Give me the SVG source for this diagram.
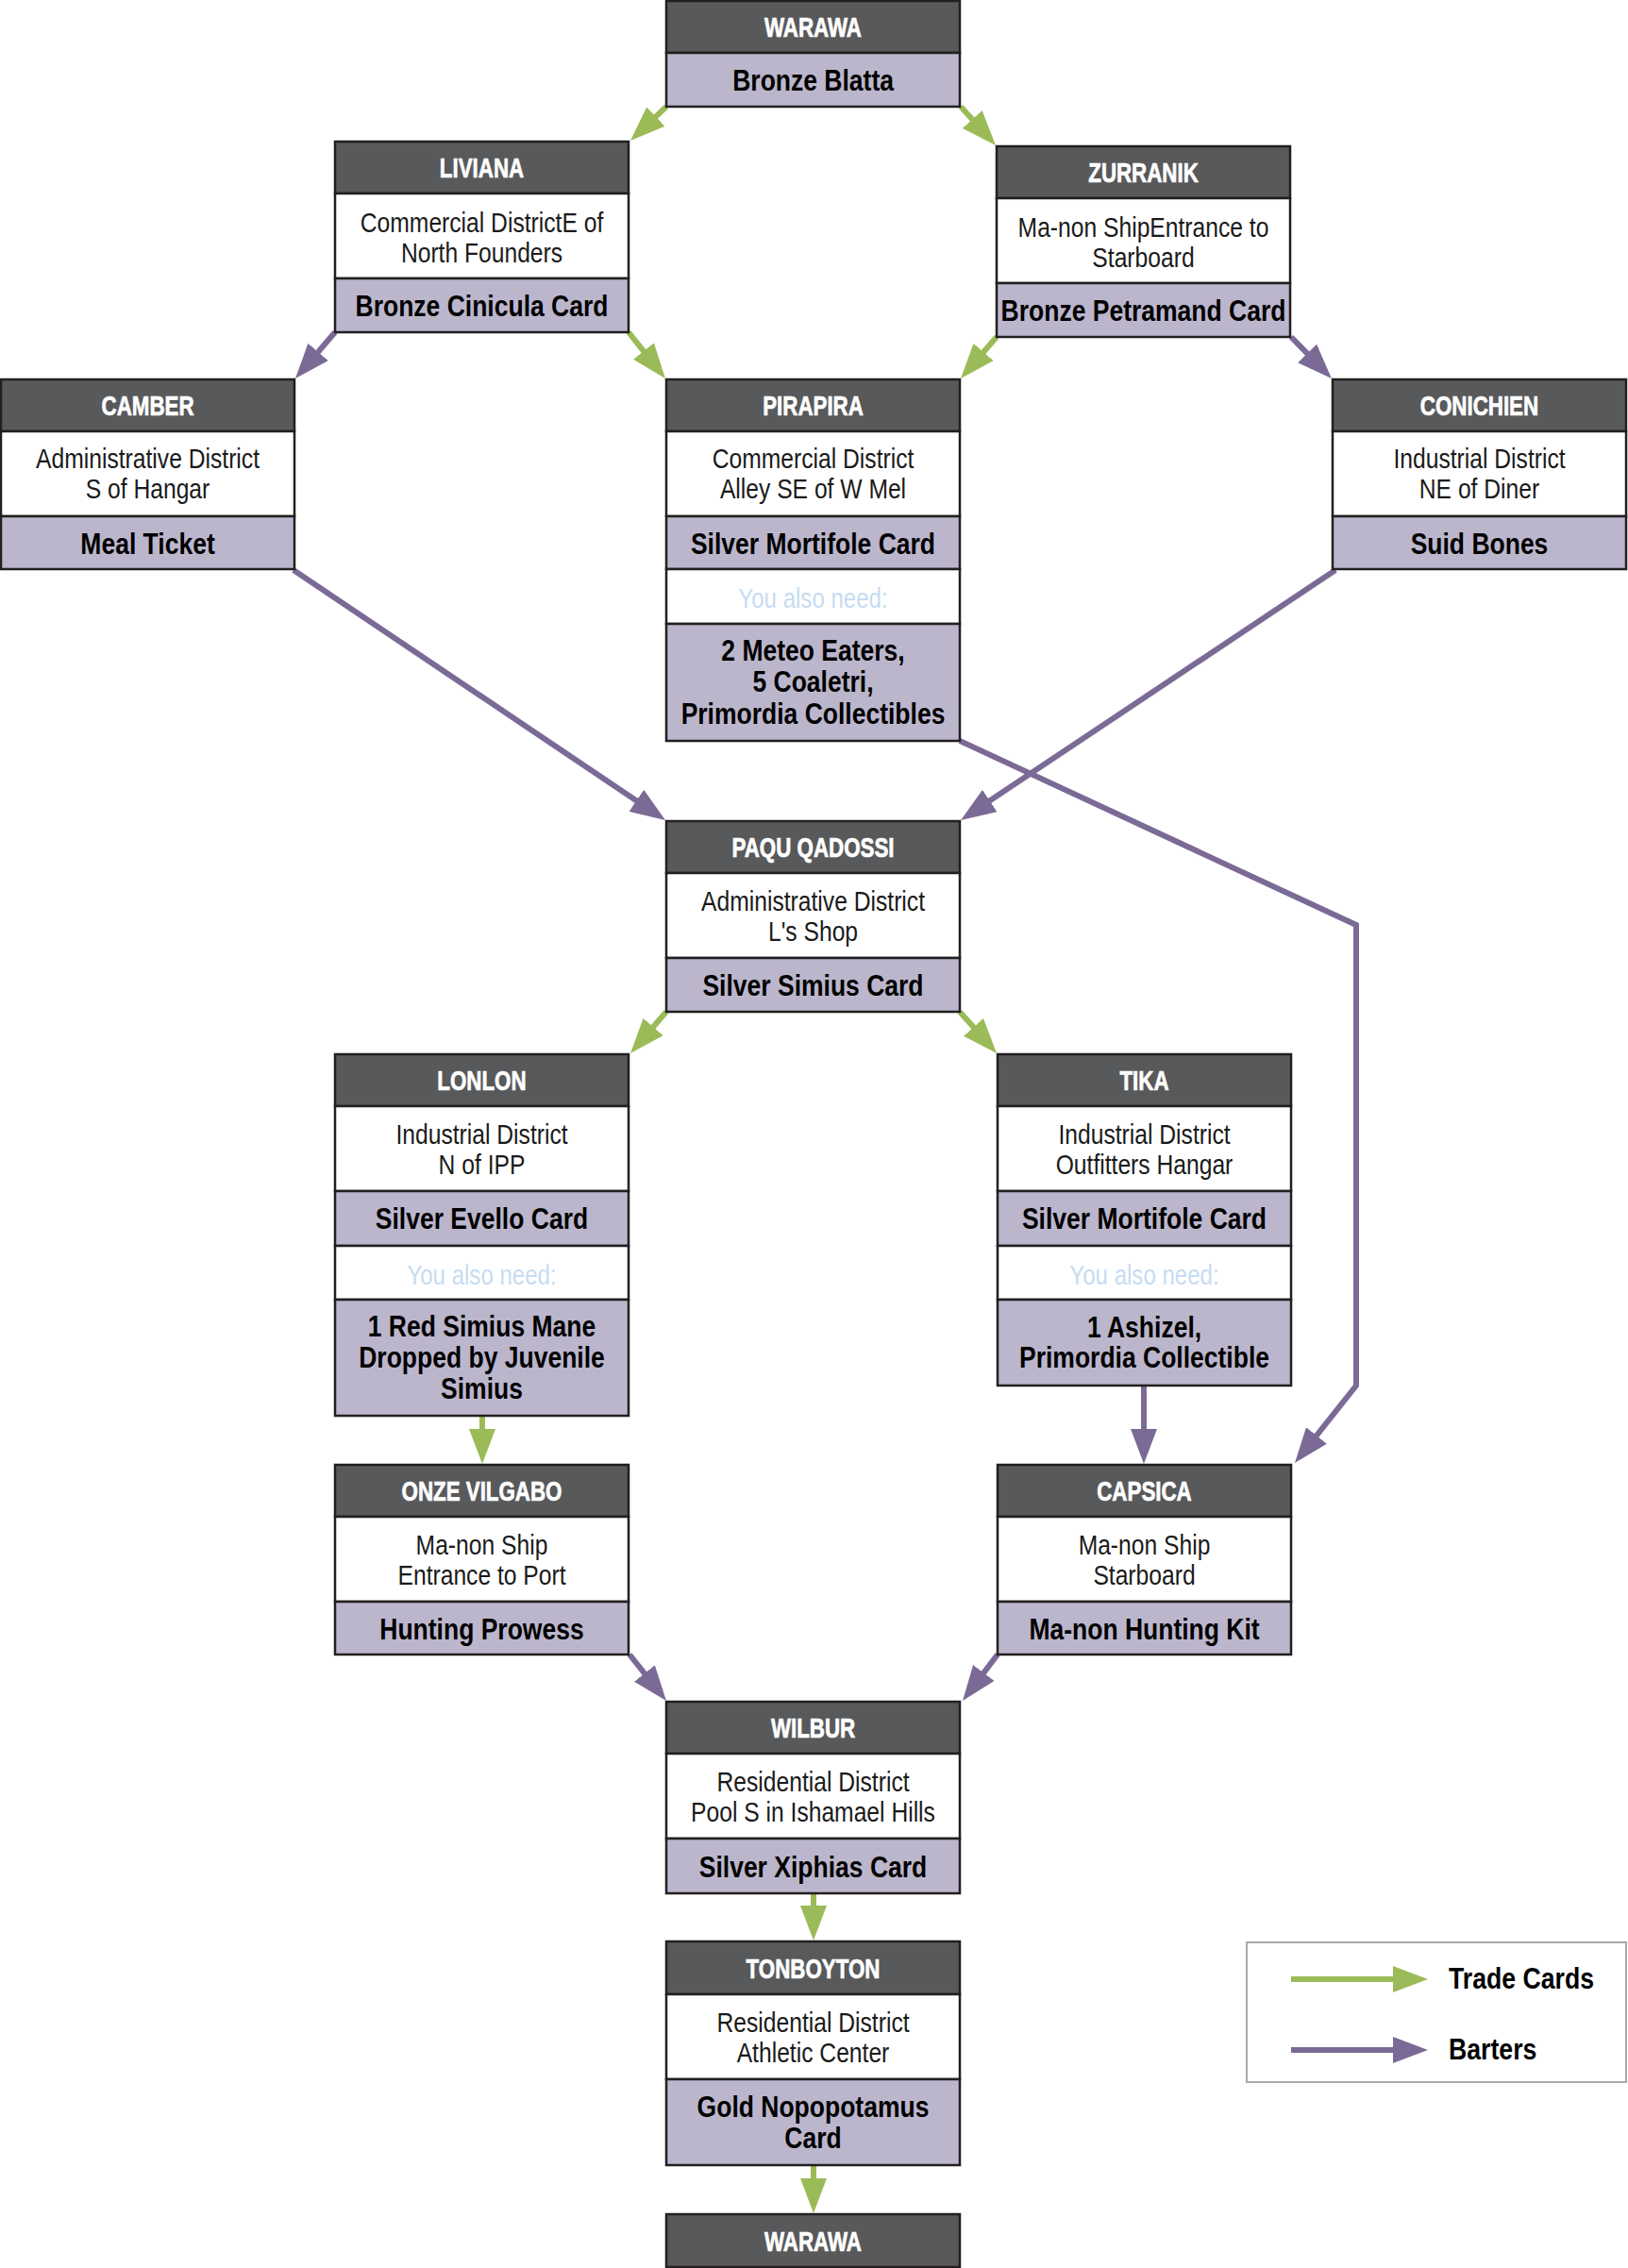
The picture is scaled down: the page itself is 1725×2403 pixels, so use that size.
<svg xmlns="http://www.w3.org/2000/svg" width="1725" height="2403" viewBox="0 0 1725 2403">
<style>
.hd{fill:#58595b;stroke:#231f20;stroke-width:2.5}
.lc{fill:#ffffff;stroke:#231f20;stroke-width:2.5}
.it{fill:#bcb6cc;stroke:#231f20;stroke-width:2.5}
text{font-family:"Liberation Sans",Arial,sans-serif;text-anchor:middle;transform-box:fill-box;transform-origin:50% 50%}
.ht{fill:#ffffff;font-size:29px;font-weight:700;stroke:#ffffff;stroke-width:0.7;transform:scaleX(0.77)}
.lt{fill:#1a1a1a;font-size:29px;font-weight:400;transform:scaleX(0.85)}
.tt{fill:#000000;font-size:31px;font-weight:700;transform:scaleX(0.855)}
.yt{fill:#c6dcf2;font-size:29px;font-weight:400;transform:scaleX(0.83)}
.g{stroke:#9bbb59;stroke-width:6;fill:none;marker-end:url(#ag)}
.p{stroke:#7b6a96;stroke-width:6;fill:none;marker-end:url(#ap)}
.leg{fill:#000;font-size:31px;font-weight:700;text-anchor:start;transform-origin:0% 50%;transform:scaleX(0.86)}
</style>
<defs>
<marker id="ag" markerUnits="userSpaceOnUse" markerWidth="38" markerHeight="28" refX="3" refY="14" orient="auto"><path d="M0,0 L37,14 L0,28 z" fill="#9bbb59"/></marker>
<marker id="ap" markerUnits="userSpaceOnUse" markerWidth="38" markerHeight="28" refX="3" refY="14" orient="auto"><path d="M0,0 L37,14 L0,28 z" fill="#7b6a96"/></marker>
</defs>
<g id="connectors">
<path class="g" d="M706,113 L692.7,125.6"/>
<path class="g" d="M1018,113 L1032.2,128.7"/>
<path class="p" d="M355,352 L335.1,375.2"/>
<path class="g" d="M666,352 L683.8,374.4"/>
<path class="g" d="M1056,357 L1040.2,375.3"/>
<path class="p" d="M1368,357 L1387.2,376.7"/>
<path class="p" d="M311,604 L676.8,850"/>
<path class="p" d="M1415,604 L1046.3,850.1"/>
<path class="p" d="M1017,785 L1437,980 L1437,1468 L1393.1,1523.3"/>
<path class="g" d="M706,1072 L690.2,1090.3"/>
<path class="g" d="M1017,1072 L1033.5,1090.6"/>
<path class="g" d="M511,1500 L511,1517"/>
<path class="p" d="M1212,1468 L1212,1517"/>
<path class="p" d="M667,1753 L684.8,1775.4"/>
<path class="p" d="M1057,1753 L1040.5,1774.9"/>
<path class="g" d="M862,2006 L862,2022"/>
<path class="g" d="M862,2294 L862,2311"/>
</g>
<g id="warawa-top">
<rect class="hd" x="706" y="1" width="311" height="55"/>
<rect class="it" x="706" y="56" width="311" height="57"/>
<text class="ht" x="861.5" y="39">WARAWA</text>
<text class="tt" x="861.5" y="96">Bronze Blatta</text>
</g>
<g id="liviana">
<rect class="hd" x="355" y="150" width="311" height="55"/>
<rect class="lc" x="355" y="205" width="311" height="90"/>
<rect class="it" x="355" y="295" width="311" height="57"/>
<text class="ht" x="510.5" y="188">LIVIANA</text>
<text class="lt" x="510.5" y="246">Commercial DistrictE of</text>
<text class="lt" x="510.5" y="278">North Founders</text>
<text class="tt" x="510.5" y="335">Bronze Cinicula Card</text>
</g>
<g id="zurranik">
<rect class="hd" x="1056" y="155" width="311" height="55"/>
<rect class="lc" x="1056" y="210" width="311" height="90"/>
<rect class="it" x="1056" y="300" width="311" height="57"/>
<text class="ht" x="1211.5" y="193">ZURRANIK</text>
<text class="lt" x="1211.5" y="251">Ma-non ShipEntrance to</text>
<text class="lt" x="1211.5" y="283">Starboard</text>
<text class="tt" x="1211.5" y="340">Bronze Petramand Card</text>
</g>
<g id="camber">
<rect class="hd" x="1" y="402" width="311" height="55"/>
<rect class="lc" x="1" y="457" width="311" height="90"/>
<rect class="it" x="1" y="547" width="311" height="56"/>
<text class="ht" x="156.5" y="440">CAMBER</text>
<text class="lt" x="156.5" y="496">Administrative District</text>
<text class="lt" x="156.5" y="528">S of Hangar</text>
<text class="tt" x="156.5" y="587">Meal Ticket</text>
</g>
<g id="pirapira">
<rect class="hd" x="706" y="402" width="311" height="55"/>
<rect class="lc" x="706" y="457" width="311" height="90"/>
<rect class="it" x="706" y="547" width="311" height="56"/>
<rect class="lc" x="706" y="603" width="311" height="58"/>
<rect class="it" x="706" y="661" width="311" height="124"/>
<text class="ht" x="861.5" y="440">PIRAPIRA</text>
<text class="lt" x="861.5" y="496">Commercial District</text>
<text class="lt" x="861.5" y="528">Alley SE of W Mel</text>
<text class="tt" x="861.5" y="587">Silver Mortifole Card</text>
<text class="yt" x="861.5" y="644">You also need:</text>
<text class="tt" x="861.5" y="700">2 Meteo Eaters,</text>
<text class="tt" x="861.5" y="733">5 Coaletri,</text>
<text class="tt" x="861.5" y="767">Primordia Collectibles</text>
</g>
<g id="conichien">
<rect class="hd" x="1412" y="402" width="311" height="55"/>
<rect class="lc" x="1412" y="457" width="311" height="90"/>
<rect class="it" x="1412" y="547" width="311" height="56"/>
<text class="ht" x="1567.5" y="440">CONICHIEN</text>
<text class="lt" x="1567.5" y="496">Industrial District</text>
<text class="lt" x="1567.5" y="528">NE of Diner</text>
<text class="tt" x="1567.5" y="587">Suid Bones</text>
</g>
<g id="paqu-qadossi">
<rect class="hd" x="706" y="870" width="311" height="55"/>
<rect class="lc" x="706" y="925" width="311" height="90"/>
<rect class="it" x="706" y="1015" width="311" height="57"/>
<text class="ht" x="861.5" y="908">PAQU QADOSSI</text>
<text class="lt" x="861.5" y="965">Administrative District</text>
<text class="lt" x="861.5" y="997">L's Shop</text>
<text class="tt" x="861.5" y="1055">Silver Simius Card</text>
</g>
<g id="lonlon">
<rect class="hd" x="355" y="1117" width="311" height="55"/>
<rect class="lc" x="355" y="1172" width="311" height="90"/>
<rect class="it" x="355" y="1262" width="311" height="58"/>
<rect class="lc" x="355" y="1320" width="311" height="57"/>
<rect class="it" x="355" y="1377" width="311" height="123"/>
<text class="ht" x="510.5" y="1155">LONLON</text>
<text class="lt" x="510.5" y="1212">Industrial District</text>
<text class="lt" x="510.5" y="1244">N of IPP</text>
<text class="tt" x="510.5" y="1302">Silver Evello Card</text>
<text class="yt" x="510.5" y="1361">You also need:</text>
<text class="tt" x="510.5" y="1416">1 Red Simius Mane</text>
<text class="tt" x="510.5" y="1449">Dropped by Juvenile</text>
<text class="tt" x="510.5" y="1482">Simius</text>
</g>
<g id="tika">
<rect class="hd" x="1057" y="1117" width="311" height="55"/>
<rect class="lc" x="1057" y="1172" width="311" height="90"/>
<rect class="it" x="1057" y="1262" width="311" height="58"/>
<rect class="lc" x="1057" y="1320" width="311" height="57"/>
<rect class="it" x="1057" y="1377" width="311" height="91"/>
<text class="ht" x="1212.5" y="1155">TIKA</text>
<text class="lt" x="1212.5" y="1212">Industrial District</text>
<text class="lt" x="1212.5" y="1244">Outfitters Hangar</text>
<text class="tt" x="1212.5" y="1302">Silver Mortifole Card</text>
<text class="yt" x="1212.5" y="1361">You also need:</text>
<text class="tt" x="1212.5" y="1417">1 Ashizel,</text>
<text class="tt" x="1212.5" y="1449">Primordia Collectible</text>
</g>
<g id="onze-vilgabo">
<rect class="hd" x="355" y="1552" width="311" height="55"/>
<rect class="lc" x="355" y="1607" width="311" height="90"/>
<rect class="it" x="355" y="1697" width="311" height="56"/>
<text class="ht" x="510.5" y="1590">ONZE VILGABO</text>
<text class="lt" x="510.5" y="1647">Ma-non Ship</text>
<text class="lt" x="510.5" y="1679">Entrance to Port</text>
<text class="tt" x="510.5" y="1737">Hunting Prowess</text>
</g>
<g id="capsica">
<rect class="hd" x="1057" y="1552" width="311" height="55"/>
<rect class="lc" x="1057" y="1607" width="311" height="90"/>
<rect class="it" x="1057" y="1697" width="311" height="56"/>
<text class="ht" x="1212.5" y="1590">CAPSICA</text>
<text class="lt" x="1212.5" y="1647">Ma-non Ship</text>
<text class="lt" x="1212.5" y="1679">Starboard</text>
<text class="tt" x="1212.5" y="1737">Ma-non Hunting Kit</text>
</g>
<g id="wilbur">
<rect class="hd" x="706" y="1803" width="311" height="55"/>
<rect class="lc" x="706" y="1858" width="311" height="90"/>
<rect class="it" x="706" y="1948" width="311" height="58"/>
<text class="ht" x="861.5" y="1841">WILBUR</text>
<text class="lt" x="861.5" y="1898">Residential District</text>
<text class="lt" x="861.5" y="1930">Pool S in Ishamael Hills</text>
<text class="tt" x="861.5" y="1989">Silver Xiphias Card</text>
</g>
<g id="tonboyton">
<rect class="hd" x="706" y="2057" width="311" height="56"/>
<rect class="lc" x="706" y="2113" width="311" height="90"/>
<rect class="it" x="706" y="2203" width="311" height="91"/>
<text class="ht" x="861.5" y="2096">TONBOYTON</text>
<text class="lt" x="861.5" y="2153">Residential District</text>
<text class="lt" x="861.5" y="2185">Athletic Center</text>
<text class="tt" x="861.5" y="2243">Gold Nopopotamus</text>
<text class="tt" x="861.5" y="2276">Card</text>
</g>
<g id="warawa-bottom">
<rect class="hd" x="706" y="2346" width="311" height="56"/>
<text class="ht" x="861.5" y="2385">WARAWA</text>
</g>
<g id="legend">
<rect x="1321" y="2058" width="402" height="148" fill="#ffffff" stroke="#a7a9ac" stroke-width="2"/>
<path class="g" d="M1368,2097 L1479,2097"/>
<path class="p" d="M1368,2172 L1479,2172"/>
<text class="leg" x="1535" y="2107">Trade Cards</text>
<text class="leg" x="1535" y="2182">Barters</text>
</g>
</svg>
